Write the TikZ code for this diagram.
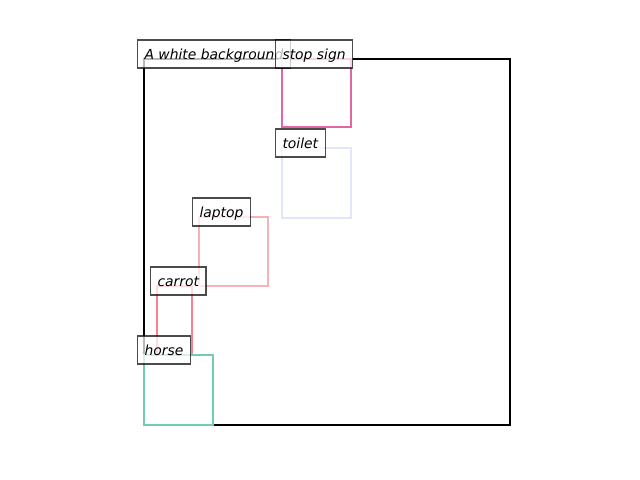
\documentclass[tikz,border=0pt]{standalone}
\usepackage{fontspec}
\setsansfont{DejaVu Sans}
\definecolor{cstop}{RGB}{224,102,166}
\definecolor{ctoilet}{RGB}{226,230,250}
\definecolor{claptop}{RGB}{245,178,186}
\definecolor{ccarrot}{RGB}{255,128,144}
\definecolor{chorse}{RGB}{110,206,174}
\begin{document}
\begin{tikzpicture}[x=0.72pt,y=-0.72pt,
  bbox/.style={line width=1.7pt},
  lbl/.style={anchor=base west,draw=black,draw opacity=0.7,fill=white,fill opacity=0.72,text opacity=1,
    line width=0.85pt,font=\sffamily\itshape\fontsize{10pt}{12pt}\selectfont,
    inner xsep=5pt,inner ysep=5pt,text height=8.7pt,text depth=1.5pt}]
\useasboundingbox (0,0) rectangle (640,480);
\draw[bbox,black] (144,59) rectangle (510,425);
\draw[bbox,cstop] (282,59) rectangle (351,127);
\draw[bbox,ctoilet] (282,148) rectangle (351,218);
\draw[bbox,claptop] (199,217) rectangle (268,286);
\draw[bbox,ccarrot] (157,286) rectangle (192,355);
\draw[bbox,chorse] (144,355) rectangle (213,425);
\node[lbl] (bg) at (137,59) {A white background};
\node[lbl] (stop) at (275,59) {stop sign};
\node[lbl] (toilet) at (275,148) {toilet};
\node[lbl] (laptop) at (192,217) {laptop};
\node[lbl] (carrot) at (150,286) {carrot};
\node[lbl] (horse) at (137,355) {horse};
\end{tikzpicture}
\end{document}
